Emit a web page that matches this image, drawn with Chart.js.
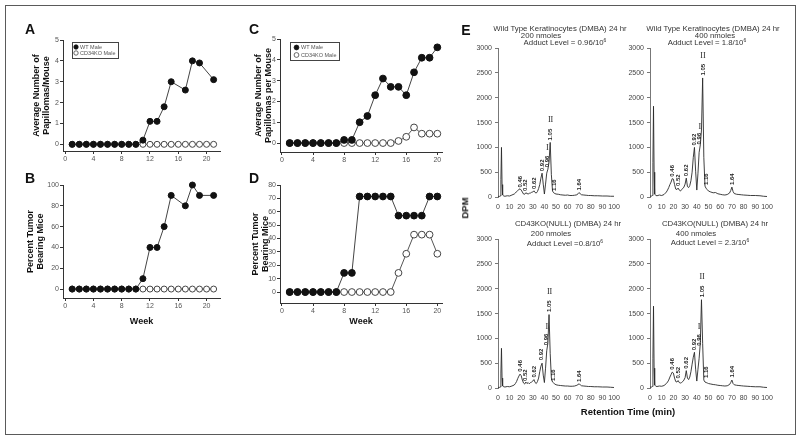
<!DOCTYPE html>
<html><head><meta charset="utf-8">
<script src="https://cdn.jsdelivr.net/npm/chart.js@4.4.1/dist/chart.umd.min.js"></script>
<style>
html,body{margin:0;padding:0;background:#fff;}
#stage{position:relative;width:800px;height:438px;overflow:hidden;font-family:"Liberation Sans",Arial,sans-serif;background:#fff;}
canvas{position:absolute;}
.frame{position:absolute;left:5px;top:5px;width:789px;height:428px;border:1px solid #5a5a5a;}
.t{position:absolute;white-space:nowrap;transform:translate(-50%,-50%);line-height:1;color:#333;filter:grayscale(1);will-change:transform;}
.letter{font-weight:bold;font-size:14px;color:#111;}
.sub{font-size:7.8px;color:#333;}
.sub sup{font-size:5px;vertical-align:3px;line-height:0;}
.ax{font-weight:bold;font-size:9.5px;color:#111;}
</style></head>
<body><div id="stage">
<div class="frame"></div>
<canvas id="cA"></canvas><canvas id="cB"></canvas><canvas id="cC"></canvas><canvas id="cD"></canvas>
<canvas id="cE1"></canvas><canvas id="cE2"></canvas><canvas id="cE3"></canvas><canvas id="cE4"></canvas>
<div class="t letter" style="left:30px;top:29px">A</div>
<div class="t letter" style="left:30px;top:178px">B</div>
<div class="t letter" style="left:254px;top:29px">C</div>
<div class="t letter" style="left:254px;top:178px">D</div>
<div class="t letter" style="left:466px;top:30px">E</div>
<div class="t sub" style="left:560px;top:29px">Wild Type Keratinocytes (DMBA) 24 hr</div>
<div class="t sub" style="left:541px;top:36px">200 nmoles</div>
<div class="t sub" style="left:565px;top:43px">Adduct Level = 0.96/10<sup>6</sup></div>
<div class="t sub" style="left:713px;top:29px">Wild Type Keratinocytes (DMBA) 24 hr</div>
<div class="t sub" style="left:715px;top:36px">400 nmoles</div>
<div class="t sub" style="left:707px;top:43px">Adduct Level = 1.8/10<sup>6</sup></div>
<div class="t sub" style="left:568px;top:224px">CD43KO(NULL) (DMBA) 24 hr</div>
<div class="t sub" style="left:551px;top:234px">200 nmoles</div>
<div class="t sub" style="left:565px;top:244px">Adduct Level =0.8/10<sup>6</sup></div>
<div class="t sub" style="left:715px;top:224px">CD43KO(NULL) (DMBA) 24 hr</div>
<div class="t sub" style="left:696px;top:234px">400 nmoles</div>
<div class="t sub" style="left:710px;top:243px">Adduct Level = 2.3/10<sup>6</sup></div>
<div class="t ax" style="left:465px;top:208px;transform:translate(-50%,-50%) rotate(-90deg)">DPM</div>
<div class="t ax" style="left:628px;top:412px">Retention Time (min)</div>
</div>
<script>
// ---------- data ----------
const weeksAB_WT = [1,2,3,4,5,6,7,8,9,10,11,12,13,14,15,17,18,19,21];
const weeksAB_KO = [1,2,3,4,5,6,7,8,9,10,11,12,13,14,15,16,17,18,19,20,21];
const papillomasA_WT = [0,0,0,0,0,0,0,0,0,0,0.2,1.1,1.1,1.8,3.0,2.6,4.0,3.9,3.1];
const papillomasA_KO = [0,0,0,0,0,0,0,0,0,0,0,0,0,0,0,0,0,0,0,0,0];
const percentB_WT = [0,0,0,0,0,0,0,0,0,0,10,40,40,60,90,80,100,90,90];
const percentB_KO = [0,0,0,0,0,0,0,0,0,0,0,0,0,0,0,0,0,0,0,0,0];
const weeksCD = [1,2,3,4,5,6,7,8,9,10,11,12,13,14,15,16,17,18,19,20];
const papillomasC_WT = [0,0,0,0,0,0,0,0.15,0.15,1.0,1.3,2.3,3.1,2.7,2.7,2.3,3.4,4.1,4.1,4.6];
const papillomasC_KO = [0,0,0,0,0,0,0,0,0,0,0,0,0,0,0.1,0.3,0.75,0.45,0.45,0.45];
const percentD_WT = [0,0,0,0,0,0,0,14.3,14.3,71.4,71.4,71.4,71.4,71.4,57.1,57.1,57.1,57.1,71.4,71.4];
const percentD_KO = [0,0,0,0,0,0,0,0,0,0,0,0,0,0,14.3,28.6,42.9,42.9,42.9,28.6];
const seriesLabels = ['WT Male','CD34KO Male'];
const weekTicksAB = [0,4,8,12,16,20];
const weekTicksCD = [0,4,8,12,16,20];
const ticksA = [0,1,2,3,4,5];
const ticksB = [0,20,40,60,80,100];
const ticksC = [0,1,2,3,4,5];
const ticksD = [0,10,20,30,40,50,60,70,80];

const rtTicks = [0,10,20,30,40,50,60,70,80,90,100];
const dpmTicks = [0,500,1000,1500,2000,2500,3000];
const retentionTime = [0,1,2,2.5,3,3.5,4,5,6,8,10,12,14,
  15,16,17,18,19,20,21,22,23,24,25,26,27,28,29,30,31,32,33,34,35,36,37,38,39,40,41,42,43,44,45,46,47,48,49,50,
  52,54,56,58,60,62,64,66,68,69,70,71,72,74,76,78,80,83,86,90,94,97,100];
const dpmWT200 = [15,10,20,350,1000,250,40,20,15,25,20,40,60,
  80,110,130,150,165,140,100,60,55,85,70,60,75,80,95,100,125,90,80,110,170,250,380,480,260,60,260,480,560,700,1100,450,120,85,70,60,
  55,45,40,35,40,30,30,35,45,65,90,60,45,40,35,30,30,25,25,20,20,15,15];
const dpmWT400 = [20,15,30,700,1830,500,60,30,25,40,30,50,100,
  140,190,250,300,370,360,250,160,150,180,140,120,150,170,200,260,380,210,190,230,330,500,800,1000,520,140,480,900,1050,1350,2400,800,220,170,150,120,
  100,85,90,65,55,45,40,50,80,130,200,110,70,55,50,45,40,35,30,30,25,15,10];
const dpmKO200 = [15,10,20,300,800,200,40,25,20,30,25,40,60,
  90,130,190,240,280,250,160,100,80,120,90,110,85,110,120,140,170,110,90,130,200,330,440,500,260,110,400,750,900,1480,700,200,120,100,80,65,
  55,50,45,40,40,35,35,40,55,70,85,60,45,40,35,30,30,25,25,20,20,15,10];
const dpmKO400 = [20,15,30,600,1650,400,60,35,30,40,35,50,90,
  120,160,220,270,320,300,200,130,120,150,110,100,110,130,160,210,350,200,170,220,330,480,620,720,380,140,380,600,900,1780,900,160,120,110,100,90,
  80,70,65,55,50,45,40,45,70,110,160,90,65,55,50,45,40,35,30,25,25,15,10];
// peak labels: [retention time, DPM at label start, text]
const peaksWT200 = [[19,190,'0.46'],[24,120,'0.52'],[31,160,'0.62'],[38,520,'0.92'],[42.5,600,'0.96'],[45.3,1140,'1.05'],[48.5,120,'1.16'],[70,130,'1.64']];
const romanWT200 = [[42.5,980,'I'],[45.3,1560,'II']];
const peaksWT400 = [[19.5,410,'0.46'],[24,220,'0.52'],[31,420,'0.62'],[37.5,1040,'0.92'],[42.5,1060,'0.96'],[45.3,2450,'1.05'],[48,240,'1.16'],[70,240,'1.64']];
const romanWT400 = [[42.5,1420,'I'],[45.3,2850,'II']];
const peaksKO200 = [[19,330,'0.46'],[23.5,140,'0.52'],[31,210,'0.62'],[37.5,560,'0.92'],[42,860,'0.96'],[44.5,1530,'1.05'],[48,140,'1.16'],[70,120,'1.64']];
const romanKO200 = [[42,1240,'I'],[44.5,1930,'II']];
const peaksKO400 = [[19.5,370,'0.46'],[24,190,'0.52'],[31,390,'0.62'],[37.5,760,'0.92'],[42,850,'0.96'],[44.5,1830,'1.05'],[48,200,'1.16'],[70,210,'1.64']];
const romanKO400 = [[42,1230,'I'],[44.5,2230,'II']];

// ---------- helpers ----------
const FAM = '"Liberation Sans", Arial, sans-serif';
Chart.defaults.font.family = FAM;
Chart.defaults.animation = false;

function mount(id, area, yW, xH, padT, padR) {
  const c = document.getElementById(id);
  const w = area.R - area.L + yW + padR;
  const h = area.B - area.T + padT + xH;
  c.width = w; c.height = h;
  c.style.width = w + 'px'; c.style.height = h + 'px';
  c.style.left = (area.L - yW) + 'px'; c.style.top = (area.T - padT) + 'px';
  return c;
}
function makeXY(xs, ys) { return xs.map((x, i) => ({x: x, y: ys[i]})); }
const plain = v => String(v);

function legendPlugin(o) {
  return {
    id: 'insetLegend',
    afterDraw(chart) {
      const ctx = chart.ctx, ca = chart.chartArea;
      const x = Math.round(ca.left + o.x), y = Math.round(ca.top + o.y);
      ctx.save();
      ctx.fillStyle = '#fff';
      ctx.fillRect(x, y, o.w, o.h);
      ctx.strokeStyle = '#444'; ctx.lineWidth = 1;
      ctx.strokeRect(x + 0.5, y + 0.5, o.w, o.h);
      chart.data.datasets.forEach((ds, i) => {
        const cy = y + o.rows[i];
        ctx.beginPath(); ctx.arc(x + o.symX, cy, o.r, 0, Math.PI * 2);
        ctx.fillStyle = ds.pointBackgroundColor; ctx.fill();
        ctx.lineWidth = 0.8; ctx.strokeStyle = ds.pointBorderColor; ctx.stroke();
        ctx.fillStyle = '#555'; ctx.font = o.font; ctx.textBaseline = 'middle'; ctx.textAlign = 'left';
        ctx.fillText(ds.label, x + o.textX, cy);
      });
      ctx.restore();
    }
  };
}

function trendChart(id, area, cfg) {
  const c = mount(id, area, cfg.yW, cfg.xH, cfg.padT, cfg.padR);
  const ds = [
    {label: seriesLabels[0], data: makeXY(cfg.wtX, cfg.wtY), borderColor: '#444', borderWidth: 1,
     pointRadius: cfg.r, pointHoverRadius: cfg.r, pointBackgroundColor: '#111', pointBorderColor: '#111', pointBorderWidth: 1, clip: false, tension: 0},
    {label: seriesLabels[1], data: makeXY(cfg.koX, cfg.koY), borderColor: '#555', borderWidth: 1,
     pointRadius: cfg.r, pointHoverRadius: cfg.r, pointBackgroundColor: '#fff', pointBorderColor: '#444', pointBorderWidth: 1, clip: false, tension: 0}
  ];
  const plugins = cfg.legend ? [legendPlugin(cfg.legend)] : [];
  return new Chart(c, {
    type: 'line',
    data: {datasets: ds},
    options: {
      responsive: false, animation: false, devicePixelRatio: 1, events: [],
      layout: {padding: {left: 0, top: cfg.padT, right: cfg.padR, bottom: 0}},
      plugins: {legend: {display: false}, tooltip: {enabled: false}},
      scales: {
        x: {type: 'linear', min: cfg.xMin, max: cfg.xMax,
          afterBuildTicks: s => { s.ticks = cfg.xTicks.map(v => ({value: v})); },
          afterFit: s => { s.height = cfg.xH; },
          grid: {display: true, drawOnChartArea: false, drawTicks: true, tickLength: 3, color: '#333'},
          border: {display: true, color: '#333', width: 1},
          ticks: {font: {size: 7}, color: '#555', padding: 1, autoSkip: false, maxRotation: 0, minRotation: 0, callback: plain},
          title: cfg.xTitle ? {display: true, text: cfg.xTitle, color: '#111', font: {size: 9, weight: 'bold', lineHeight: 1.2}, padding: {top: 0, bottom: 2}} : {display: false}
        },
        y: {type: 'linear', min: cfg.yMin, max: cfg.yMax,
          afterBuildTicks: s => { s.ticks = cfg.yTicks.map(v => ({value: v})); },
          afterFit: s => { s.width = cfg.yW; },
          grid: {display: true, drawOnChartArea: false, drawTicks: true, tickLength: 3, color: '#333'},
          border: {display: true, color: '#333', width: 1},
          ticks: {font: {size: 7}, color: '#555', padding: 1, autoSkip: false, callback: plain},
          title: {display: true, text: cfg.yTitle, color: '#111', font: {size: 9, weight: 'bold', lineHeight: 1.1}, padding: {top: cfg.yTitlePad, bottom: 0}}
        }
      }
    },
    plugins: plugins
  });
}

function peakPlugin(items, numerals) {
  return {
    id: 'peakLabels',
    afterDatasetsDraw(chart) {
      const ctx = chart.ctx, xs = chart.scales.x, ys = chart.scales.y;
      ctx.save();
      ctx.fillStyle = '#222';
      ctx.font = 'bold 6px ' + FAM;
      ctx.textAlign = 'left'; ctx.textBaseline = 'middle';
      items.forEach(([t, v, txt]) => {
        ctx.save();
        ctx.translate(xs.getPixelForValue(t), ys.getPixelForValue(v));
        ctx.rotate(-Math.PI / 2);
        ctx.fillText(txt, 0, 0);
        ctx.restore();
      });
      ctx.font = '8px "Liberation Serif", "Times New Roman", serif';
      ctx.textAlign = 'center';
      numerals.forEach(([t, v, txt]) => ctx.fillText(txt, xs.getPixelForValue(t), ys.getPixelForValue(v)));
      ctx.restore();
    }
  };
}

function chromChart(id, area, rt, dpm, items, numerals) {
  const yW = 26, xH = 14, padT = 6, padR = 14;
  const c = mount(id, area, yW, xH, padT, padR);
  return new Chart(c, {
    type: 'line',
    data: {datasets: [{data: makeXY(rt, dpm), borderColor: '#2a2a2a', borderWidth: 0.9, pointRadius: 0, tension: 0}]},
    options: {
      responsive: false, animation: false, devicePixelRatio: 1, events: [],
      layout: {padding: {left: 0, top: padT, right: padR, bottom: 0}},
      plugins: {legend: {display: false}, tooltip: {enabled: false}},
      scales: {
        x: {type: 'linear', min: 0, max: 100,
          afterBuildTicks: s => { s.ticks = rtTicks.map(v => ({value: v})); },
          afterFit: s => { s.height = xH; },
          grid: {display: false, drawTicks: false},
          border: {display: false},
          ticks: {font: {size: 7}, color: '#444', padding: 6, autoSkip: false, maxRotation: 0, minRotation: 0, callback: plain}
        },
        y: {type: 'linear', min: 0, max: 3000,
          afterBuildTicks: s => { s.ticks = dpmTicks.map(v => ({value: v})); },
          afterFit: s => { s.width = yW; },
          grid: {display: true, drawOnChartArea: false, drawTicks: true, tickLength: 3, color: '#777'},
          border: {display: true, color: '#777', width: 1},
          ticks: {font: {size: 7}, color: '#444', padding: 3, autoSkip: false, callback: plain}
        }
      }
    },
    plugins: [peakPlugin(items, numerals)]
  });
}

// ---------- panels A-D ----------
trendChart('cA', {L: 63, T: 40, R: 220, B: 151}, {
  yW: 39, xH: 14, padT: 8, padR: 8, r: 3,
  wtX: weeksAB_WT, wtY: papillomasA_WT, koX: weeksAB_KO, koY: papillomasA_KO,
  xMin: -0.3, xMax: 21.9, xTicks: weekTicksAB,
  yMin: -0.32, yMax: 5, yTicks: ticksA,
  yTitle: ['Average Number of', 'Papillomas/Mouse'], yTitlePad: 8,
  legend: {x: 9, y: 2, w: 46, h: 16, symX: 4, textX: 8, rows: [5, 11], r: 2.2, font: '5.5px ' + FAM}
});
trendChart('cB', {L: 63, T: 185, R: 220, B: 298}, {
  yW: 39, xH: 31, padT: 8, padR: 8, r: 3,
  wtX: weeksAB_WT, wtY: percentB_WT, koX: weeksAB_KO, koY: percentB_KO,
  xMin: -0.3, xMax: 21.9, xTicks: weekTicksAB, xTitle: 'Week',
  yMin: -8.6, yMax: 100, yTicks: ticksB,
  yTitle: ['Percent Tumor', 'Bearing Mice'], yTitlePad: 2
});
trendChart('cC', {L: 280, T: 39, R: 442, B: 152}, {
  yW: 30, xH: 14, padT: 8, padR: 8, r: 3.4,
  wtX: weeksCD, wtY: papillomasC_WT, koX: weeksCD, koY: papillomasC_KO,
  xMin: -0.25, xMax: 20.6, xTicks: weekTicksCD,
  yMin: -0.43, yMax: 5, yTicks: ticksC,
  yTitle: ['Average Number of', 'Papillomas per Mouse'], yTitlePad: 4,
  legend: {x: 10, y: 3, w: 49, h: 18, symX: 6.5, textX: 11, rows: [5.5, 13], r: 2.4, font: '5.5px ' + FAM}
});
trendChart('cD', {L: 280, T: 185, R: 442, B: 303}, {
  yW: 30, xH: 26, padT: 8, padR: 8, r: 3.4,
  wtX: weeksCD, wtY: percentD_WT, koX: weeksCD, koY: percentD_KO,
  xMin: -0.25, xMax: 20.6, xTicks: weekTicksCD, xTitle: 'Week',
  yMin: -8.2, yMax: 80, yTicks: ticksD,
  yTitle: ['Percent Tumor', 'Bearing Mice'], yTitlePad: 1
});

// ---------- panel E ----------
chromChart('cE1', {L: 498, T: 47, R: 614, B: 197}, retentionTime, dpmWT200, peaksWT200, romanWT200);
chromChart('cE2', {L: 650, T: 47, R: 767, B: 197}, retentionTime, dpmWT400, peaksWT400, romanWT400);
chromChart('cE3', {L: 498, T: 238, R: 614, B: 388}, retentionTime, dpmKO200, peaksKO200, romanKO200);
chromChart('cE4', {L: 650, T: 238, R: 767, B: 388}, retentionTime, dpmKO400, peaksKO400, romanKO400);
</script>
</body></html>
